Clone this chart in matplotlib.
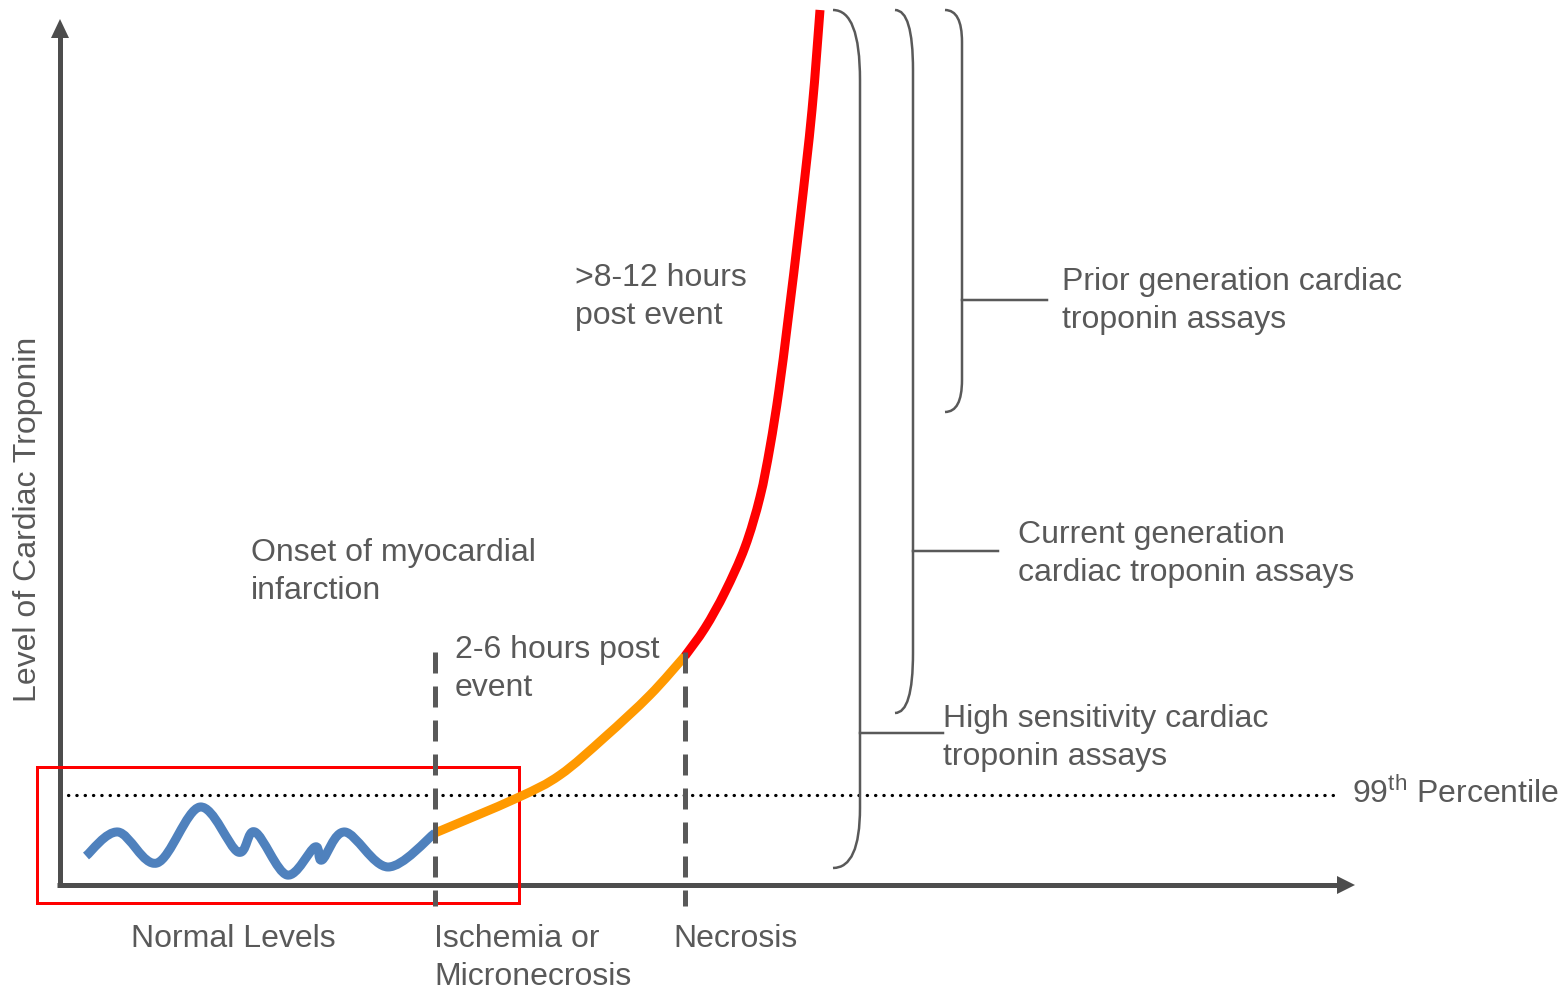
import numpy as np
import matplotlib
matplotlib.use('Agg')
import matplotlib.pyplot as plt
from matplotlib.path import Path
from matplotlib.patches import PathPatch, Polygon, Rectangle

plt.rcParams['font.family'] = ['Liberation Sans', 'DejaVu Sans']
plt.rcParams['mathtext.fontset'] = 'custom'
plt.rcParams['mathtext.rm'] = 'Liberation Sans'

# ─── DATA (canvas coordinates, y grows downward) ─────────────────────────────
normal_x = [86, 118, 157, 200, 238, 255, 287, 315, 322, 345, 388, 435]
normal_y = [856, 832, 863, 807, 852, 832, 875, 847, 860, 832, 867, 833]

early_x = [435, 517, 560, 605, 650, 685]
early_y = [833, 798, 775, 737, 695, 656]

late_x = [685, 705, 725, 745, 760, 770, 779, 788, 800, 812, 820]
late_y = [656, 628, 592, 547, 497, 447, 390, 320, 220, 110, 10]

event_x = [435, 685]              # onset / necrosis markers
percentile_y = 795                # 99th percentile level

# brackets: (left x, spine x, top, bottom, curve radius top, bottom, arm y, arm end)
brackets = [
    (833, 860, 10, 868, 70, 60, 733, 943),
    (895, 913, 10, 713, 60, 60, 551, 998),
    (945, 962, 10, 412, 32, 32, 300, 1047),
]

labels = [
    (575, 297, '>8-12 hours\npost event'),
    (251, 572, 'Onset of myocardial\ninfarction'),
    (455, 669, '2-6 hours post\nevent'),
    (1062, 301, 'Prior generation cardiac\ntroponin assays'),
    (1018, 554, 'Current generation\ncardiac troponin assays'),
    (943, 738, 'High sensitivity cardiac\ntroponin assays'),
    (131, 939, 'Normal Levels'),
    (434, 958, 'Ischemia or\nMicronecrosis'),
    (673, 939, 'Necrosis'),
]

GREY = '#595959'
AXIS = '#4d4d4d'
PX = 0.72  # points per pixel at dpi 100


def smooth_path(xs, ys):
    pts = np.column_stack([xs, ys]).astype(float)
    n = len(pts)
    verts = [pts[0]]
    codes = [Path.MOVETO]
    for i in range(n - 1):
        p0 = pts[max(i - 1, 0)]
        p1 = pts[i]
        p2 = pts[i + 1]
        p3 = pts[min(i + 2, n - 1)]
        verts += [p1 + (p2 - p0) / 6, p2 - (p3 - p1) / 6, p2]
        codes += [Path.CURVE4] * 3
    return Path(verts, codes)


def bracket_path(xl, xr, top, bot, rt, rb):
    verts = [(xl, top), (xr, top), (xr, top + rt),
             (xr, bot - rb), (xr, bot), (xl, bot)]
    codes = [Path.MOVETO, Path.CURVE3, Path.CURVE3,
             Path.LINETO, Path.CURVE3, Path.CURVE3]
    return Path(verts, codes)


fig = plt.figure(figsize=(15.65, 9.89), dpi=100)
ax = fig.add_axes([0, 0, 1, 1])
ax.set_xlim(0, 1565)
ax.set_ylim(989, 0)
ax.axis('off')

# axes with arrow heads
ax.plot([60, 60], [887, 36], color=AXIS, lw=5 * PX, solid_capstyle='butt', zorder=3)
ax.add_patch(Polygon([(60, 19), (51, 38), (69, 38)], closed=True, color=AXIS, lw=0, zorder=3))
ax.plot([57, 1340], [885, 885], color=AXIS, lw=5 * PX, solid_capstyle='butt', zorder=3)
ax.add_patch(Polygon([(1355, 885), (1337, 876), (1337, 894)], closed=True, color=AXIS, lw=0, zorder=3))

# red highlight box
ax.add_patch(Rectangle((37, 767), 482, 136, fill=False, edgecolor='#ff0000', lw=3 * PX, zorder=5))

# 99th percentile dotted line
ax.plot([68, 1335], [percentile_y, percentile_y], color='black', lw=3.2 * PX,
        linestyle=(0, (0.1, 2.5)), dash_capstyle='round', zorder=4)

# event markers
for ex in event_x:
    ax.plot([ex, ex], [652, 906], color=GREY, lw=5 * PX,
            linestyle=(0, (4.2, 2.6)), zorder=6)

# troponin curve
for xs, ys, col in [(normal_x, normal_y, '#4f81bd'),
                    (early_x, early_y, '#ff9900'),
                    (late_x, late_y, '#ff0000')]:
    ax.add_patch(PathPatch(smooth_path(xs, ys), fill=False, edgecolor=col,
                           lw=9 * PX, capstyle='butt', joinstyle='round', zorder=5))

# assay brackets
for xl, xr, top, bot, rt, rb, arm_y, arm_end in brackets:
    ax.add_patch(PathPatch(bracket_path(xl, xr, top, bot, rt, rb), fill=False,
                           edgecolor=GREY, lw=2.5 * PX, zorder=4))
    ax.plot([xr, arm_end], [arm_y, arm_y], color=GREY, lw=2.5 * PX, zorder=4)

# text
FS = 23
for x, y, s in labels:
    ax.text(x, y, s, fontsize=FS, color=GREY, ha='left', va='center', linespacing=1.33)

ax.text(1352, 794, r'99$^{\mathrm{th}}$ Percentile', fontsize=FS, color=GREY,
        ha='left', va='center')
ax.text(28, 519, 'Level of Cardiac Troponin', fontsize=FS, color=GREY,
        ha='center', va='center', rotation=90)

fig.savefig('out.png', dpi=100)
